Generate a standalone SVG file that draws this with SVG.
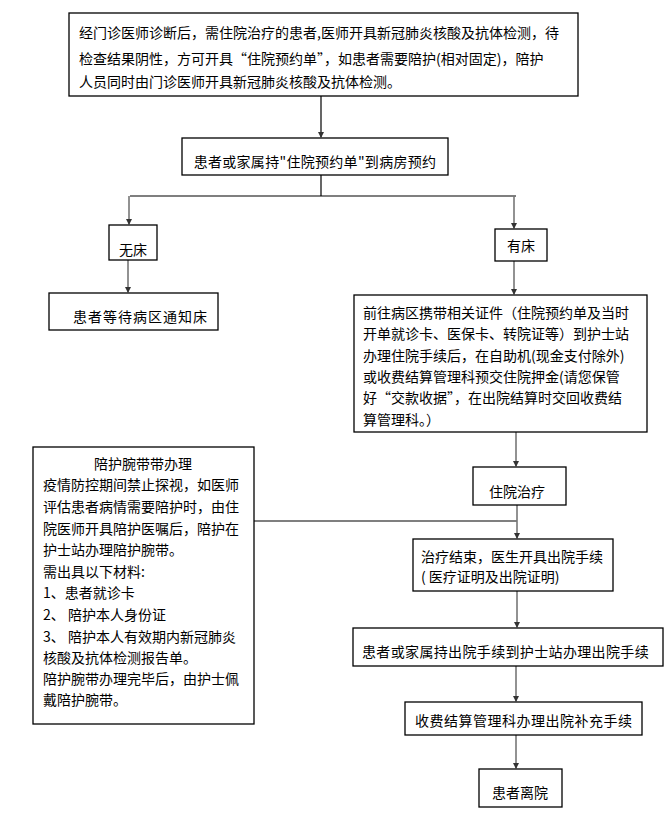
<svg xmlns="http://www.w3.org/2000/svg" width="669" height="830" viewBox="0 0 669 830">
<defs>
<marker id="ah" markerWidth="6" markerHeight="6" refX="5" refY="3" orient="auto" markerUnits="userSpaceOnUse">
<path d="M0,0 L6,3 L0,6 z" fill="#333"/>
</marker>
<style>
.box{fill:#fff;stroke:#000;stroke-width:1.3}
text{font-family:"Noto Sans CJK SC","Microsoft YaHei",sans-serif;font-size:14px;fill:#000}
.c{text-anchor:middle}
.ln{stroke:#000;stroke-width:1.2;fill:none}
.ar{stroke:#777;stroke-width:1.6;fill:none;marker-end:url(#ah)}
</style>
</defs>
<rect width="669" height="830" fill="#fff"/>
<g id="connectors">
<line class="ln" x1="321" y1="96" x2="321" y2="137" marker-end="url(#ah)"/>
<line class="ln" x1="321" y1="175" x2="321" y2="196"/>
<line class="ln" x1="130" y1="196" x2="516" y2="196"/>
<line class="ar" x1="129" y1="196" x2="129" y2="224"/>
<line class="ar" x1="514" y1="196" x2="514" y2="228"/>
<line class="ar" x1="128" y1="260" x2="128" y2="292"/>
<line class="ar" x1="514" y1="261" x2="514" y2="294"/>
<line class="ar" x1="516" y1="432" x2="516" y2="466"/>
<line class="ln" x1="254" y1="521" x2="517" y2="521"/>
<line class="ar" x1="517" y1="505" x2="517" y2="538"/>
<line class="ar" x1="517" y1="591" x2="517" y2="627"/>
<line class="ar" x1="516" y1="666" x2="516" y2="701"/>
<line class="ar" x1="516" y1="735" x2="516" y2="768"/>
</g>
<g id="n1">
<rect class="box" x="69" y="13" width="509" height="83"/>
<text x="79" y="38">经门诊医师诊断后，需住院治疗的患者,医师开具新冠肺炎核酸及抗体检测，待</text>
<text x="79" y="64">检查结果阴性，方可开具“住院预约单”，如患者需要陪护(相对固定)，陪护</text>
<text x="79" y="87">人员同时由门诊医师开具新冠肺炎核酸及抗体检测。</text>
</g>
<g id="n2">
<rect class="box" x="182" y="138" width="266" height="37"/>
<text class="c" x="315" y="167" letter-spacing="0.3">患者或家属持"住院预约单"到病房预约</text>
</g>
<g id="n3">
<rect class="box" x="109" y="225" width="48" height="35"/>
<text class="c" x="133" y="255">无床</text>
</g>
<g id="n4">
<rect class="box" x="495" y="229" width="52" height="32"/>
<text class="c" x="521" y="251">有床</text>
</g>
<g id="n5">
<rect class="box" x="49" y="293" width="169" height="37"/>
<text x="73" y="322" letter-spacing="1">患者等待病区通知床</text>
</g>
<g id="n6">
<rect class="box" x="354" y="295" width="293" height="137"/>
<text x="363" y="318">前往病区携带相关证件（住院预约单及当时</text>
<text x="363" y="339">开单就诊卡、医保卡、转院证等）到护士站</text>
<text x="363" y="361">办理住院手续后，在自助机(现金支付除外)</text>
<text x="363" y="382">或收费结算管理科预交住院押金(请您保管</text>
<text x="363" y="403">好“交款收据”，在出院结算时交回收费结</text>
<text x="363" y="425">算管理科。）</text>
</g>
<g id="n7">
<rect class="box" x="33" y="447" width="221" height="277"/>
<text class="c" x="143" y="469">陪护腕带带办理</text>
<text x="43" y="490">疫情防控期间禁止探视，如医师</text>
<text x="43" y="512">评估患者病情需要陪护时，由住</text>
<text x="43" y="534">院医师开具陪护医嘱后，陪护在</text>
<text x="43" y="555">护士站办理陪护腕带。</text>
<text x="43" y="577">需出具以下材料:</text>
<text x="43" y="598">1、患者就诊卡</text>
<text x="43" y="620">2、 陪护本人身份证</text>
<text x="43" y="642">3、 陪护本人有效期内新冠肺炎</text>
<text x="43" y="663">核酸及抗体检测报告单。</text>
<text x="43" y="684">陪护腕带办理完毕后，由护士佩</text>
<text x="43" y="705">戴陪护腕带。</text>
</g>
<g id="n8">
<rect class="box" x="473" y="467" width="93" height="38"/>
<text class="c" x="517" y="497">住院治疗</text>
</g>
<g id="n9">
<rect class="box" x="413" y="539" width="200" height="52"/>
<text x="421" y="562">治疗结束，医生开具出院手续</text>
<text x="421" y="582">( 医疗证明及出院证明)</text>
</g>
<g id="n10">
<rect class="box" x="353" y="628" width="310" height="38"/>
<text x="362" y="657" letter-spacing="0.35">患者或家属持出院手续到护士站办理出院手续</text>
</g>
<g id="n11">
<rect class="box" x="405" y="702" width="237" height="33"/>
<text x="415" y="726" letter-spacing="0.5">收费结算管理科办理出院补充手续</text>
</g>
<g id="n12">
<rect class="box" x="479" y="769" width="83" height="38"/>
<text class="c" x="520" y="798">患者离院</text>
</g>
</svg>
